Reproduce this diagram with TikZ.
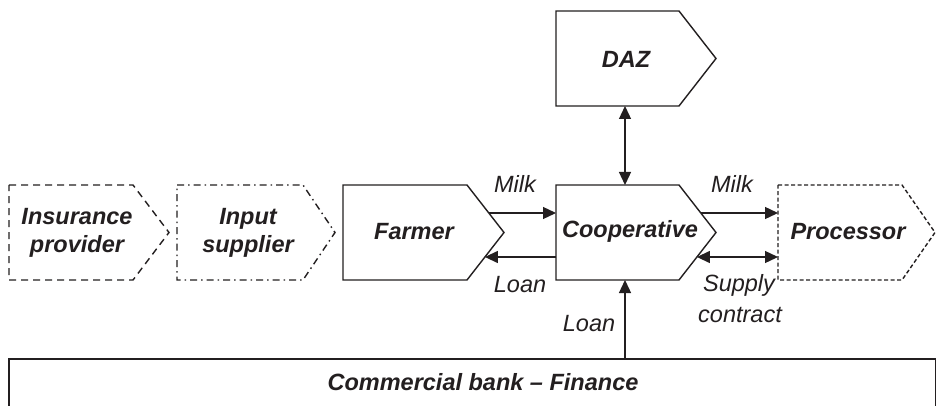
\documentclass[tikz,border=0pt]{standalone}
\usepackage{fontspec}
\setmainfont{Liberation Sans}
\usetikzlibrary{arrows.meta}
\definecolor{ink}{HTML}{231F20}
\begin{document}
\begin{tikzpicture}[x=1pt,y=-1pt,
  boxline/.style={draw=ink,line width=1.4pt,line join=miter},
  dashbox/.style={boxline,dash pattern=on 7pt off 5pt},
  dashdotbox/.style={boxline,dash pattern=on 7pt off 4pt on 1.5pt off 4pt},
  finebox/.style={boxline,dash pattern=on 4pt off 2.5pt},
  bold/.style={font=\fontsize{23.5}{28.5}\selectfont\bfseries\itshape,text=ink,align=center,inner sep=0pt},
  lab/.style={font=\fontsize{23.5}{28}\selectfont\itshape,text=ink,inner sep=0pt,anchor=base},
  conn/.style={draw=ink,line width=1.3pt,-{Triangle[length=13pt,width=12pt]}},
  dconn/.style={draw=ink,line width=1.3pt,{Triangle[length=13pt,width=12pt]}-{Triangle[length=13pt,width=12pt]}}]
\useasboundingbox (0,0) rectangle (936,406);
\clip (0,0) rectangle (936,406);
\fill[white] (0,0) rectangle (936,406);
% shapes
\draw[dashbox] (9,185) -- (133,185) -- (169,232.5) -- (133,280) -- (9,280) -- cycle;
\draw[dashdotbox] (177,185) -- (303,185) -- (335,232.5) -- (303,280) -- (177,280) -- cycle;
\draw[boxline] (343,185) -- (467,185) -- (504,232.5) -- (467,280) -- (343,280) -- cycle;
\draw[boxline] (556,185) -- (679,185) -- (716,232.5) -- (679,280) -- (556,280) -- cycle;
\draw[finebox] (778,185) -- (902,185) -- (935,232.5) -- (902,280) -- (778,280) -- cycle;
\draw[boxline] (556,11) -- (679,11) -- (716,58.5) -- (679,106) -- (556,106) -- cycle;
\draw[boxline] (9,359) rectangle (935.4,420);
% texts
\node[bold] (ins) at (77,233) {Insurance\\provider};
\node[bold] (inp) at (248,233) {Input\\supplier};
\node[bold] (farm) at (414,232) {Farmer};
\node[bold] (coop) at (630,231) {Cooperative};
\node[bold] (proc) at (848,232) {Processor};
\node[bold] (daz) at (626,59) {DAZ};
\node[bold] (bank) at (483,382) {Commercial bank -- Finance};
% connector end points
\coordinate (farmOut) at (488.8,213);
\coordinate (coopInM) at (556,213);
\coordinate (coopInL) at (556,257);
\coordinate (farmInL) at (484.9,257);
\coordinate (coopOut) at (700.8,213);
\coordinate (procIn) at (778,213);
\coordinate (coopSup) at (696.9,257);
\coordinate (procSup) at (778,257);
\coordinate (dazB) at (625,106);
\coordinate (coopT) at (625,185);
\coordinate (bankT) at (625,359);
\coordinate (coopB) at (625,280);
% connectors
\draw[conn] (farmOut) -- (coopInM);
\draw[conn] (coopInL) -- (farmInL);
\draw[conn] (coopOut) -- (procIn);
\draw[dconn] (coopSup) -- (procSup);
\draw[dconn] (dazB) -- (coopT);
\draw[conn] (bankT) -- (coopB);
% labels
\node[lab] (milk1) at (515,193) {Milk};
\node[lab] (loan1) at (520,292) {Loan};
\node[lab] (milk2) at (732,193) {Milk};
\node[lab] (sup) at (739,291) {Supply};
\node[lab] (contr) at (740,322) {contract};
\node[lab] (loan2) at (589,331) {Loan};
\end{tikzpicture}
\end{document}
